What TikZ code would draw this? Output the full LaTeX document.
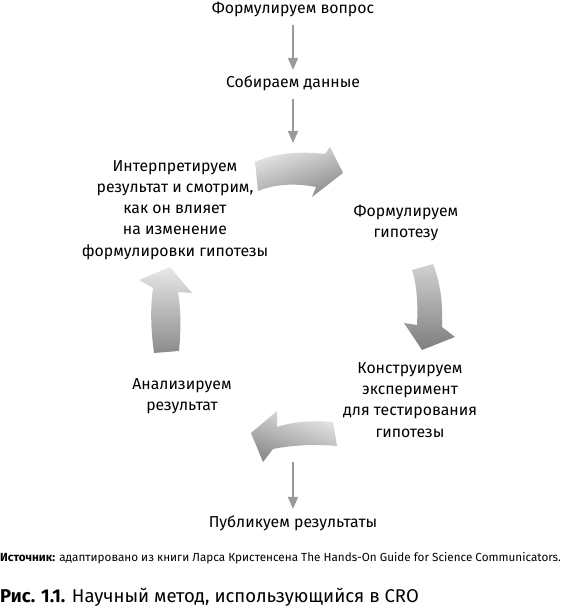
\documentclass[tikz,border=0pt]{standalone}
\usepackage{fontspec}
\setmainfont{Fira Sans}
\usetikzlibrary{arrows.meta}
\definecolor{arrgray}{HTML}{9A9A9A}
\definecolor{shlight}{HTML}{E8E8E8}
\definecolor{shdark}{HTML}{8C8C8C}
\tikzset{
  lbl/.style={font=\fontsize{15.8}{21.2}\selectfont, align=center, inner sep=1pt, text=black},
  straightarr/.style={draw=arrgray, line width=1.6pt, -{Triangle[width=10pt,length=12pt]}},
  fatarr/.style={draw=none}
}
\begin{document}
\begin{tikzpicture}[x=1pt,y=-1pt]
\useasboundingbox (0,0) rectangle (563,609);
% text nodes
\node[lbl, anchor=base] (Q) at (293,14) {Формулируем вопрос};
\node[lbl, anchor=base] (D) at (293,88) {Собираем данные};
\node[lbl] (H) at (406,223) {Формулируем\\гипотезу};
\node[lbl] (E) at (410,400) {Конструируем\\эксперимент\\для тестирования\\гипотезы};
\node[lbl] (A) at (182,396) {Анализируем\\результат};
\node[lbl] (I) at (175,210) {Интерпретируем\\результат и смотрим,\\как он влияет\\на изменение\\формулировки гипотезы};
\node[lbl, anchor=base] (P) at (293,527) {Публикуем результаты};
\coordinate (topfat) at (293,143);
\coordinate (pubstart) at (293,462);
% straight arrows
\draw[straightarr, shorten <=6pt, shorten >=5pt] (Q) -- (D);
\draw[straightarr, shorten <=6pt] (D) -- (topfat);
\draw[straightarr, shorten >=5pt] (pubstart) -- (P);
% fat curved arrows
\shade[fatarr, top color=shlight, bottom color=shdark, shading angle=20]
 (255,162) .. controls (275,153) and (300,151) .. (325,154) -- (330,147) -- (343,173) -- (312,197) -- (316,187)
 .. controls (295,183) and (275,184) .. (258,191) -- cycle;
\shade[fatarr, top color=shlight!90!black, bottom color=shdark!90!black]
 (412,270) -- (433,264) .. controls (441,285) and (443,305) .. (442,327) -- (455,337) -- (422,350) -- (404,323)
 -- (417,325) .. controls (418,305) and (417,285) .. (412,270) -- cycle;
\shade[fatarr, top color=shlight, bottom color=shdark, shading angle=-20]
 (333,422) .. controls (310,420) and (292,422) .. (277,427) -- (277,411) -- (251,433) -- (263,462) -- (273,449)
 .. controls (293,445) and (315,444) .. (337,446) -- cycle;
\shade[fatarr, top color=shlight, bottom color=shdark]
 (154,353) -- (179,351) .. controls (181,330) and (181,310) .. (178,292) -- (192,293) -- (170,267) -- (139,280)
 -- (153,288) .. controls (150,310) and (151,330) .. (154,353) -- cycle;
% source and caption
\node[anchor=base west, inner sep=0pt, font=\fontsize{11.7}{13}\selectfont] (src) at (0,561)
 {\textbf{Источник:} адаптировано из книги Ларса Кристенсена The Hands-On Guide for Science Communicators.};
\node[anchor=base west, inner sep=0pt, font=\fontsize{18.5}{20}\selectfont] (cap) at (0,602)
 {\textbf{Рис. 1.1.} Научный метод, использующийся в CRO};
\end{tikzpicture}
\end{document}
